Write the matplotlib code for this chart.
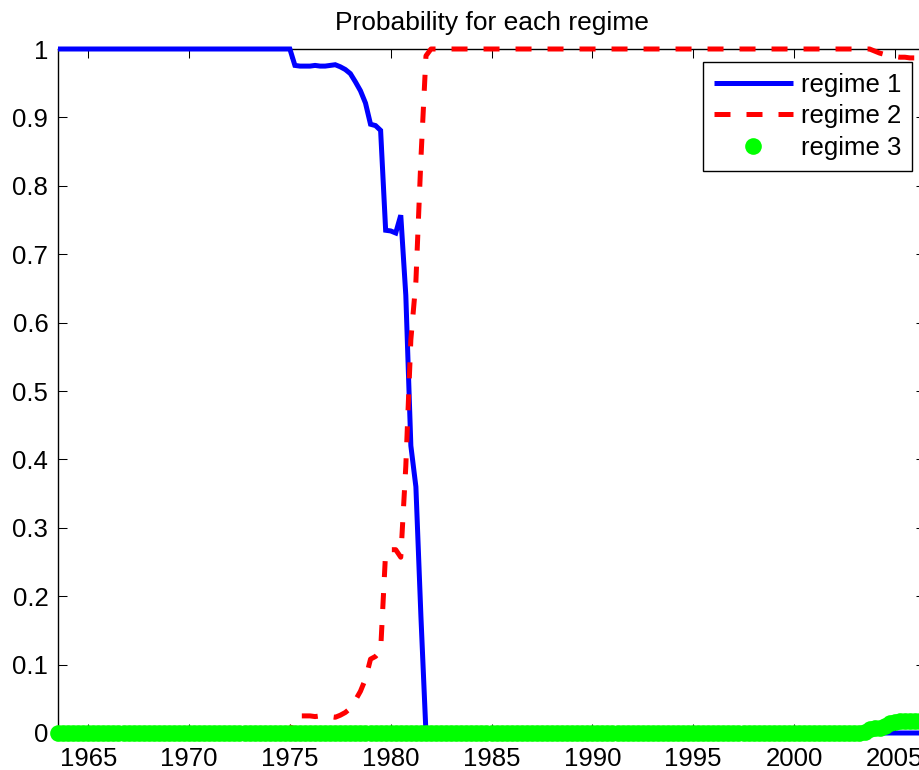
import matplotlib
matplotlib.use("Agg")
import matplotlib.pyplot as plt
import numpy as np

plt.rcParams['font.family'] = ['Liberation Sans', 'DejaVu Sans']

# Quarterly dates, 1963Q3 .. 2006Q3
start_year = 1963.5
n_quarters = 173
dates = start_year + 0.25 * np.arange(n_quarters)

regime1 = ([1.0] * 47 +
           [0.976, 0.975, 0.975, 0.975, 0.976, 0.975, 0.975, 0.976, 0.977,
            0.974, 0.970, 0.964, 0.952, 0.939, 0.921, 0.890, 0.888, 0.881,
            0.735, 0.734, 0.731, 0.757, 0.640, 0.420, 0.360, 0.170] +
           [0.0] * 100)

regime2 = ([0.0] * 47 +
           [0.024, 0.025, 0.025, 0.025, 0.024, 0.025, 0.025, 0.024, 0.023,
            0.026, 0.030, 0.036, 0.048, 0.061, 0.079, 0.108, 0.112, 0.120,
            0.265, 0.268, 0.268, 0.257, 0.390, 0.575, 0.660, 0.840, 0.990] +
           [1.0] * 88 +
           [0.997, 0.994, 0.992, 0.990, 0.989, 0.988, 0.988, 0.987, 0.987,
            0.987, 0.987])

regime3 = ([0.0] * 160 +
           [0.002, 0.006, 0.007, 0.008, 0.010, 0.014, 0.016, 0.017, 0.017,
            0.018, 0.018, 0.018, 0.018])

labels = ['regime 1', 'regime 2', 'regime 3']
title = 'Probability for each regime'
xtick_years = [1965, 1970, 1975, 1980, 1985, 1990, 1995, 2000, 2005]
ytick_vals = [0, 0.1, 0.2, 0.3, 0.4, 0.5, 0.6, 0.7, 0.8, 0.9, 1]
ytick_labels = ['0', '0.1', '0.2', '0.3', '0.4', '0.5', '0.6', '0.7', '0.8', '0.9', '1']

FS = 18.5
W, H = 920, 770
fig = plt.figure(figsize=(W / 100, H / 100), dpi=100)
ax = fig.add_axes([58 / W, 37 / H, 867 / W, 684 / H])

l1, = ax.plot(dates, regime1, color=(0, 0, 1), lw=3.6, solid_capstyle='butt',
              solid_joinstyle='miter', zorder=3, clip_on=False, label=labels[0])
l2, = ax.plot(dates, regime2, color=(1, 0, 0), lw=3.6, dashes=(3.2, 3.2),
              dash_capstyle='butt', zorder=3.1, clip_on=False, label=labels[1])
l3, = ax.plot(dates, regime3, color=(0, 1, 0), ls='none', marker='o', ms=12,
              mec=(0, 1, 0), mew=0, zorder=3.2, clip_on=False, label=labels[2])

ax.set_xlim(start_year, 2006.5)
ax.set_ylim(0, 1)
ax.set_xticks(xtick_years)
ax.set_xticklabels([str(y) for y in xtick_years])
ax.set_yticks(ytick_vals)
ax.set_yticklabels(ytick_labels)
ax.tick_params(direction='in', length=6.3, width=0.75, top=True, right=True,
               labelsize=FS, colors='black')
ax.tick_params(axis='x', pad=10)
ax.tick_params(axis='y', pad=7)
for s in ax.spines.values():
    s.set_linewidth(1.0)

ax.set_title(title, fontsize=19, pad=14)

leg = ax.legend(loc='upper right', bbox_to_anchor=(1, 1), fontsize=FS,
                frameon=True, fancybox=False, framealpha=1, edgecolor='black',
                borderaxespad=0.5, handlelength=3.1, handletextpad=0.3,
                labelspacing=0.3, borderpad=0.42, numpoints=1)
leg.get_frame().set_linewidth(1.0)

fig.savefig('out.png', dpi=100, facecolor='white')
